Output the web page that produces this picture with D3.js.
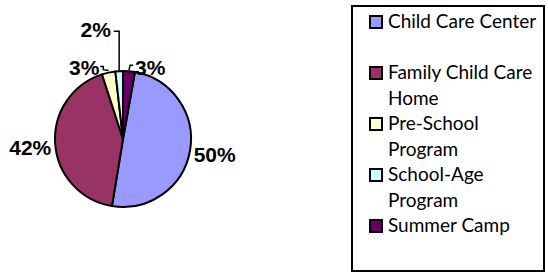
<!DOCTYPE html>
<html>
<head>
<meta charset="utf-8">
<script src="https://cdn.jsdelivr.net/npm/d3@7"></script>
<style>
  html, body { margin: 0; padding: 0; background: #fff; }
  .pct { font-family: "Liberation Sans", Arial, sans-serif; font-weight: bold; font-size: 21px; fill: #000; }
  .leg { font-family: Lato, "Open Sans", sans-serif; font-size: 19px; fill: #000; }
</style>
</head>
<body>
<div id="chart"></div>
<script>
const width = 548;
const height = 273;

// data, legend order
const categories = ["Child Care Center", "Family Child Care Home", "Pre-School Program", "School-Age Program", "Summer Camp"];
const values = [49.8, 42.4, 3.2, 1.8, 2.8];
const colors = ["#9999FF", "#993366", "#FFFFCC", "#CCFFFF", "#660066"];
// legend lines (wrapped as in the original)
const legendLines = [["Child Care Center"], ["Family Child Care", "Home"], ["Pre-School", "Program"], ["School-Age", "Program"], ["Summer Camp"]];

// label nudges from the default label anchor (layout only)
const labelNudge = [[0, 0], [0, 1.5], [-19, 19.5], [-22, -17], [19, 21]];

const cx = 123, cy = 139, r = 68, labelR = 93;

const svg = d3.select("#chart")
    .append("svg")
    .attr("width", width)
    .attr("height", height);

const total = d3.sum(values);
const start = 2 * Math.PI * values[values.length - 1] / total;

const pie = d3.pie()
    .sort(null)
    .startAngle(start)
    .endAngle(start + 2 * Math.PI);

const arcs = pie(values);
const arc = d3.arc().innerRadius(0).outerRadius(r);

const g = svg.append("g").attr("transform", `translate(${cx},${cy})`);

g.selectAll("path")
    .data(arcs)
    .enter().append("path")
    .attr("d", arc)
    .attr("fill", (d, i) => colors[i])
    .attr("stroke", "#000")
    .attr("stroke-width", 2)
    .attr("stroke-linejoin", "round");

function polar(a, rad) {
    return [rad * Math.sin(a), -rad * Math.cos(a)];
}

const labelPos = arcs.map((d, i) => {
    const p = polar((d.startAngle + d.endAngle) / 2, labelR);
    return [p[0] + labelNudge[i][0], p[1] + labelNudge[i][1]];
});

// leader lines for the small slices
const line = d3.line();
const leaders = [];
{
    // School-Age: up from the rim, then across to its label
    const d = arcs[3];
    const e = polar((d.startAngle + d.endAngle) / 2, r);
    const lp = labelPos[3];
    leaders.push([e, [e[0], lp[1] + 2], [lp[0] + 18, lp[1] + 2]]);
    // Pre-School
    const d2 = arcs[2];
    const e2 = polar(d2.endAngle - 0.1, r);
    const lp2 = labelPos[2];
    leaders.push([[lp2[0] + 16, lp2[1] - 1], [lp2[0] + 19, lp2[1] - 1], [lp2[0] + 19, lp2[1] + 2], [e2[0], e2[1] - 2]]);
    // Summer Camp
    const d4 = arcs[4];
    const e4 = polar((d4.startAngle + d4.endAngle) / 2, r);
    const lp4 = labelPos[4];
    leaders.push([[lp4[0] - 17, lp4[1] - 2], [lp4[0] - 20, lp4[1] - 2], [lp4[0] - 21, lp4[1] + 2], [e4[0], e4[1] - 1]]);
}

g.selectAll(".leader")
    .data(leaders)
    .enter().append("path")
    .attr("class", "leader")
    .attr("d", line)
    .attr("fill", "none")
    .attr("stroke", "#000")
    .attr("stroke-width", 1.5);

g.selectAll(".pct")
    .data(arcs)
    .enter().append("text")
    .attr("class", "pct")
    .attr("x", (d, i) => labelPos[i][0])
    .attr("y", (d, i) => labelPos[i][1])
    .attr("dy", "0.35em")
    .attr("text-anchor", "middle")
    .text(d => Math.round(d.value / total * 100) + "%");

// legend
const legend = svg.append("g");
legend.append("rect")
    .attr("x", 352)
    .attr("y", 6)
    .attr("width", 192)
    .attr("height", 265)
    .attr("fill", "#fff")
    .attr("stroke", "#000")
    .attr("stroke-width", 2);

const lineH = 25.5;
// row index of each entry's first line
let row = 0;
const rowStart = [];
legendLines.forEach((ls, i) => {
    rowStart.push(row);
    row += (i === 0) ? 2 : ls.length;
});

const item = legend.selectAll(".item")
    .data(categories)
    .enter().append("g")
    .attr("class", "item")
    .attr("transform", (d, i) => `translate(370,${28 + rowStart[i] * lineH})`);

item.append("rect")
    .attr("x", 0)
    .attr("y", -12)
    .attr("width", 12)
    .attr("height", 12)
    .attr("fill", (d, i) => colors[i])
    .attr("stroke", "#000")
    .attr("stroke-width", 2);

item.append("text")
    .attr("class", "leg")
    .selectAll("tspan")
    .data((d, i) => legendLines[i])
    .enter().append("tspan")
    .attr("x", 18)
    .attr("y", (d, j) => j * lineH)
    .text(d => d);
</script>
</body>
</html>
